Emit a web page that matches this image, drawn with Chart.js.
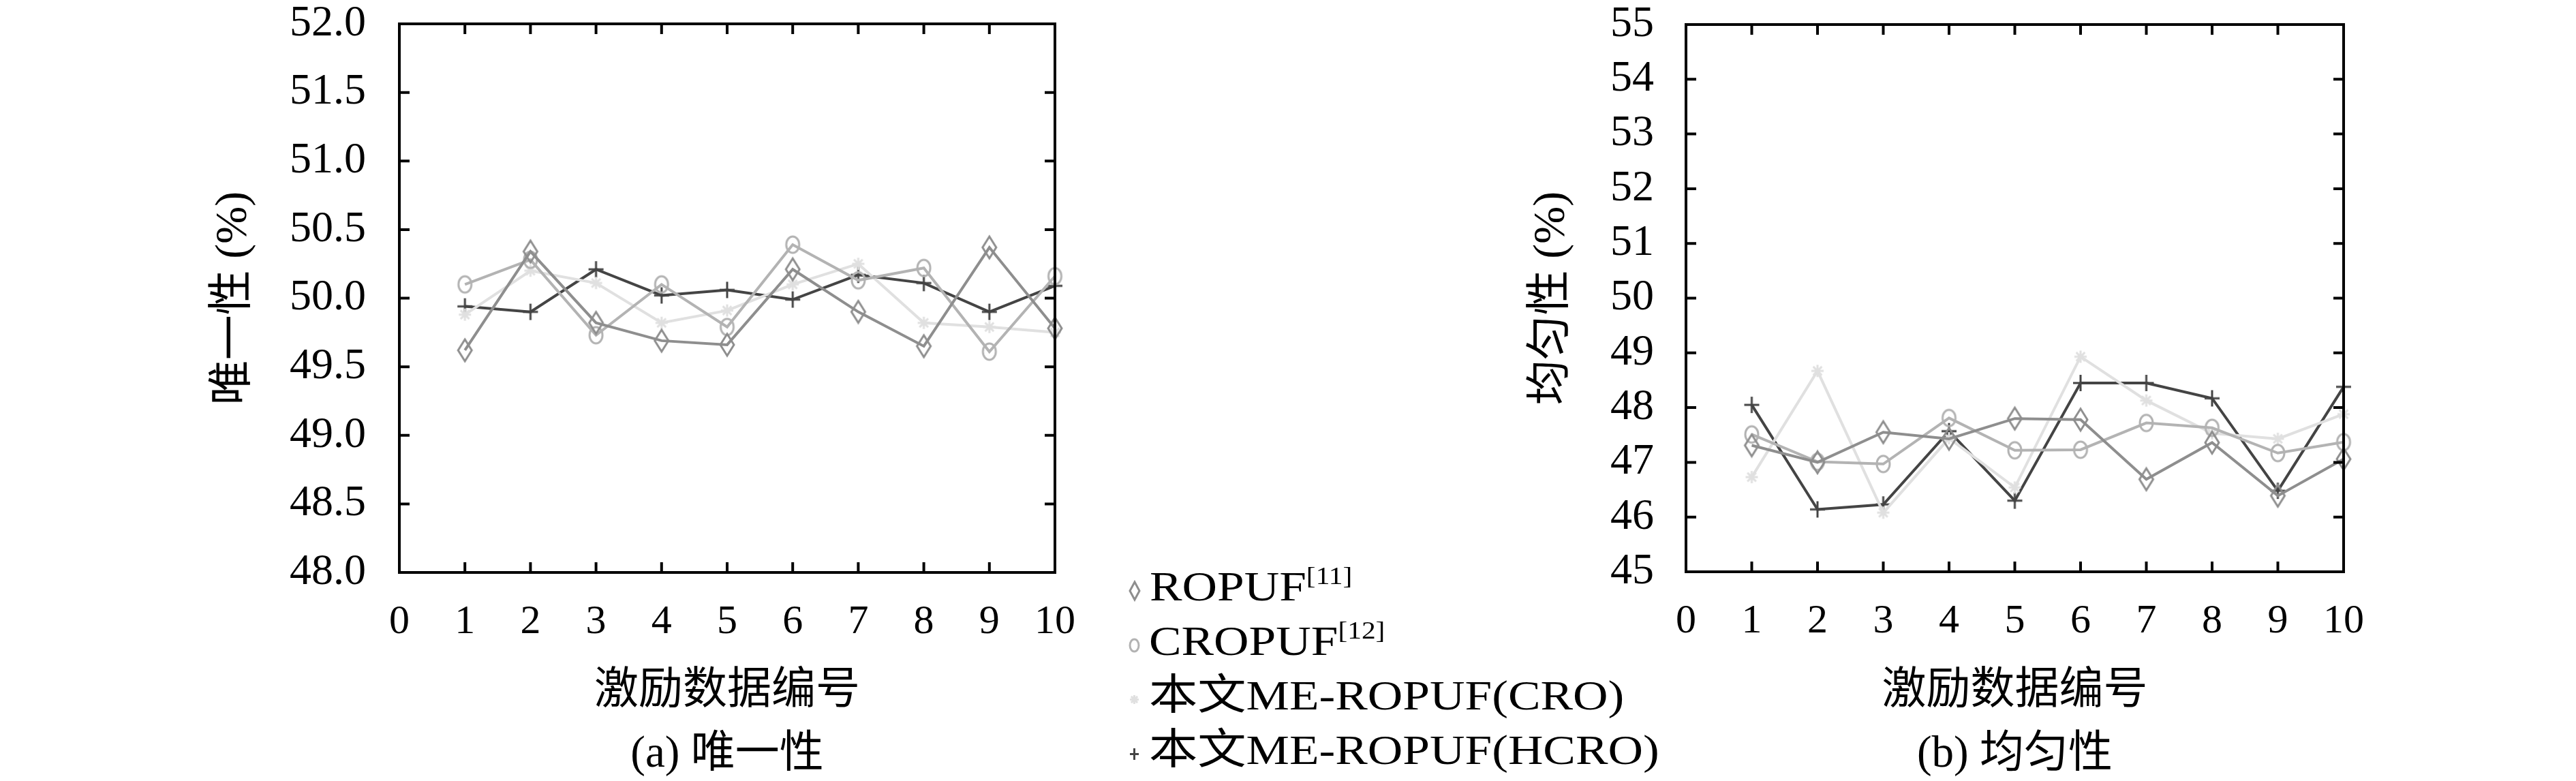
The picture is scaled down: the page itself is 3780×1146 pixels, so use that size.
<!DOCTYPE html>
<html>
<head>
<meta charset="utf-8">
<script src="https://cdn.jsdelivr.net/npm/chart.js@4.4.1/dist/chart.umd.min.js"></script>
<style>
  html, body { margin: 0; padding: 0; background: #fff; }
  body { width: 3780px; height: 1146px; position: relative; overflow: hidden; }
  canvas { position: absolute; top: 0; }
  #chartA { left: 0; }
  #chartB { left: 2000px; }
  #legend {
    position: absolute; left: 1655px; top: 820px;
    font-family: 'Liberation Serif', 'Noto Sans CJK SC', serif;
    font-size: 62px; color: #000; line-height: 80px; z-index: 2;
  }
  #legend .row { white-space: nowrap; height: 80px; }
  #legend canvas { position: static; vertical-align: middle; margin-right: 12px; }
  #legend .txt { display: inline-block; transform: scaleX(1.15); transform-origin: left center; }
  #legend sup { font-size: 36px; vertical-align: 24px; line-height: 0; }
</style>
</head>
<body>
<canvas id="chartA" width="1600" height="1146"></canvas>
<canvas id="chartB" width="1780" height="1146"></canvas>
<div id="legend"></div>

<script>
// data
var categories = [1, 2, 3, 4, 5, 6, 7, 8, 9, 10];
var xTicks = [0, 1, 2, 3, 4, 5, 6, 7, 8, 9, 10];
var seriesNames = ['ROPUF', 'CROPUF', '本文ME-ROPUF(CRO)', '本文ME-ROPUF(HCRO)'];
var seriesRefs = ['[11]', '[12]', '', ''];

// (a) 唯一性
var uniqTicks = [48.0, 48.5, 49.0, 49.5, 50.0, 50.5, 51.0, 51.5, 52.0];
var uniqRopuf = [49.62, 50.34, 49.82, 49.69, 49.66, 50.21, 49.90, 49.65, 50.37, 49.78];
var uniqCropuf = [50.10, 50.28, 49.73, 50.10, 49.79, 50.39, 50.13, 50.22, 49.61, 50.16];
var uniqCro = [49.88, 50.20, 50.11, 49.82, 49.91, 50.10, 50.25, 49.82, 49.79, 49.75];
var uniqHcro = [49.94, 49.90, 50.21, 50.02, 50.06, 49.99, 50.17, 50.11, 49.90, 50.09];

// (b) 均匀性
var unifTicks = [45, 46, 47, 48, 49, 50, 51, 52, 53, 54, 55];
var unifRopuf = [47.31, 47.00, 47.55, 47.43, 47.80, 47.78, 46.69, 47.36, 46.39, 47.06];
var unifCropuf = [47.51, 47.01, 46.97, 47.81, 47.22, 47.23, 47.72, 47.63, 47.17, 47.37];
var unifCro = [46.73, 48.67, 46.08, 47.44, 46.54, 48.93, 48.13, 47.53, 47.43, 47.88];
var unifHcro = [48.05, 46.14, 46.23, 47.57, 46.30, 48.45, 48.45, 48.17, 46.48, 48.38];

var colors = ['#8e8e8e', '#b3b3b3', '#e0e0e0', '#444444'];
var markerKinds = ['diamond', 'circle', 'star', 'plus'];

// small canvases used as point styles
function makeMarker(kind, color, w, h, lw) {
    var c = document.createElement('canvas');
    c.width = w + lw * 2; c.height = h + lw * 2;
    var g = c.getContext('2d');
    var cx = c.width / 2, cy = c.height / 2;
    g.strokeStyle = color; g.lineWidth = lw; g.lineCap = 'butt';
    g.beginPath();
    if (kind === 'diamond') {
        g.moveTo(cx, cy - h / 2); g.lineTo(cx + w / 2, cy);
        g.lineTo(cx, cy + h / 2); g.lineTo(cx - w / 2, cy); g.closePath();
    } else if (kind === 'circle') {
        g.ellipse(cx, cy, w / 2, h / 2, 0, 0, Math.PI * 2);
    } else if (kind === 'star') {
        for (var i = 0; i < 4; i++) {
            var a = i * Math.PI / 4;
            g.moveTo(cx - Math.cos(a) * w / 2, cy - Math.sin(a) * h / 2);
            g.lineTo(cx + Math.cos(a) * w / 2, cy + Math.sin(a) * h / 2);
        }
    } else {
        g.moveTo(cx - w / 2, cy); g.lineTo(cx + w / 2, cy);
        g.moveTo(cx, cy - h / 2); g.lineTo(cx, cy + h / 2);
    }
    g.stroke();
    return c;
}

var markerSizes = { diamond: [20, 32], circle: [19, 24], star: [18, 18], plus: [22, 24] };
var legendSizes = { diamond: [14, 26], circle: [13, 18], star: [13, 13], plus: [13, 17] };

// frame box and inward ticks on all four sides
var frameTicks = {
    id: 'frameTicks',
    afterDatasetsDraw: function(chart) {
        var ctx = chart.ctx, a = chart.chartArea;
        var x = chart.scales.x, y = chart.scales.y;
        var len = 15;
        ctx.save();
        ctx.strokeStyle = '#000';
        ctx.lineWidth = 4;
        ctx.beginPath();
        x.ticks.forEach(function(t) {
            var px = x.getPixelForValue(t.value);
            ctx.moveTo(px, a.bottom); ctx.lineTo(px, a.bottom - len);
            ctx.moveTo(px, a.top); ctx.lineTo(px, a.top + len);
        });
        y.ticks.forEach(function(t) {
            var py = y.getPixelForValue(t.value);
            ctx.moveTo(a.left, py); ctx.lineTo(a.left + len, py);
            ctx.moveTo(a.right, py); ctx.lineTo(a.right - len, py);
        });
        ctx.stroke();
        ctx.strokeRect(a.left, a.top, a.right - a.left, a.bottom - a.top);
        ctx.restore();
    }
};

var serif = "'Liberation Serif', 'Noto Sans CJK SC', serif";

function makeChart(id, seriesList, yTicks, decimals, yTitle, caption, pad, yWidth, xHeight, tickPad) {
    var datasets = seriesList.map(function(vals, i) {
        var sz = markerSizes[markerKinds[i]];
        return {
            label: seriesNames[i],
            data: categories.map(function(c, j) { return { x: c, y: vals[j] }; }),
            borderColor: colors[i],
            borderWidth: 4,
            pointStyle: makeMarker(markerKinds[i], colors[i], sz[0], sz[1], 3),
            pointRadius: 10,
            clip: false,
            tension: 0
        };
    });
    return new Chart(document.getElementById(id), {
        type: 'line',
        data: { datasets: datasets },
        options: {
            responsive: false,
            devicePixelRatio: 1,
            animation: false,
            layout: { padding: pad },
            plugins: { legend: { display: false }, tooltip: { enabled: false } },
            scales: {
                x: {
                    type: 'linear',
                    min: xTicks[0], max: xTicks[xTicks.length - 1],
                    afterBuildTicks: function(s) { s.ticks = xTicks.map(function(v) { return { value: v }; }); },
                    afterFit: function(s) { s.height = xHeight; s.paddingLeft = 0; s.paddingRight = 0; },
                    grid: { display: false, drawTicks: false },
                    border: { display: false },
                    ticks: { color: '#000', padding: 37, maxRotation: 0, font: { family: serif, size: 60 } },
                    title: {
                        display: true, text: ['激励数据编号', caption], color: '#000',
                        padding: { top: 0, bottom: -8 },
                        font: { family: serif, size: 65, lineHeight: 1.43 }
                    }
                },
                y: {
                    min: yTicks[0], max: yTicks[yTicks.length - 1],
                    afterBuildTicks: function(s) { s.ticks = yTicks.map(function(v) { return { value: v }; }); },
                    afterFit: function(s) { s.width = yWidth; s.paddingTop = 0; s.paddingBottom = 0; },
                    grid: { display: false, drawTicks: false },
                    border: { display: false },
                    ticks: {
                        color: '#000', padding: tickPad,
                        font: { family: serif, size: 64 },
                        callback: function(v) { return Number(v).toFixed(decimals); }
                    },
                    title: {
                        display: true, text: yTitle, color: '#000',
                        padding: { top: 4, bottom: 0 },
                        font: { family: serif, size: 66 }
                    }
                }
            }
        },
        plugins: [frameTicks]
    });
}

makeChart('chartA', [uniqRopuf, uniqCropuf, uniqCro, uniqHcro], uniqTicks, 1,
    '唯一性 (%)', '(a) 唯一性', { left: 300, top: 35, right: 52, bottom: 0 }, 286, 306, 49);
makeChart('chartB', [unifRopuf, unifCropuf, unifCro, unifHcro], unifTicks, 0,
    '均匀性 (%)', '(b) 均匀性', { left: 234, top: 36, right: 341, bottom: 0 }, 240, 307, 47);

// legend between the two panels
var legend = document.getElementById('legend');
seriesNames.forEach(function(name, i) {
    var row = document.createElement('div');
    row.className = 'row';
    var sz = legendSizes[markerKinds[i]];
    row.appendChild(makeMarker(markerKinds[i], colors[i], sz[0], sz[1], 3));
    var txt = document.createElement('span');
    txt.className = 'txt';
    txt.textContent = name;
    if (seriesRefs[i]) {
        var sup = document.createElement('sup');
        sup.textContent = seriesRefs[i];
        txt.appendChild(sup);
    }
    row.appendChild(txt);
    legend.appendChild(row);
});
</script>
</body>
</html>
